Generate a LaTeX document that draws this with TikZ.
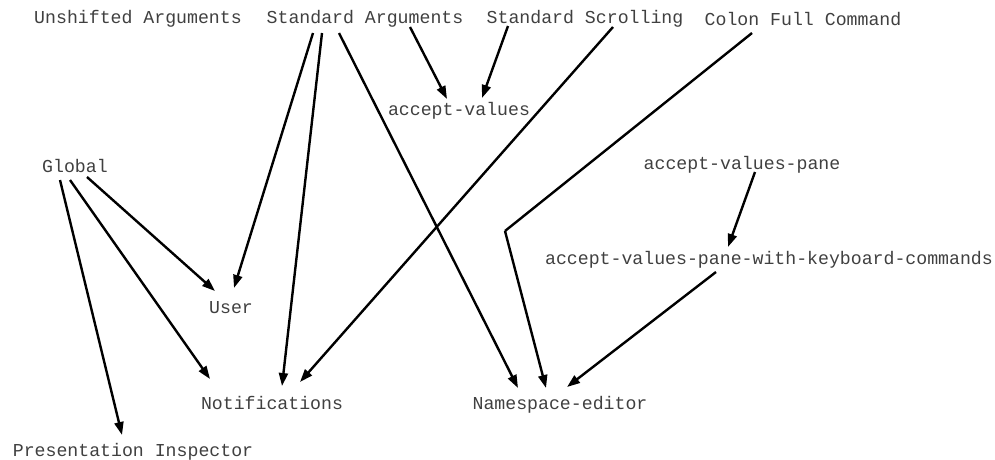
\documentclass[tikz,border=0pt]{standalone}
\usepackage{fontspec}
\setmonofont{Liberation Mono}
\usetikzlibrary{arrows.meta,calc}
\tikzset{
  lbl/.style={anchor=base, inner sep=0pt, text=black!75, font=\ttfamily\fontsize{18.2}{22}\selectfont},
  edge/.style={line width=2.4pt, -{Triangle[length=13pt,width=9pt]}},
  seg/.style={line width=2.4pt}
}
\begin{document}
\begin{tikzpicture}[x=1pt,y=-1pt]
\useasboundingbox (0,0) rectangle (995,459);
\node[lbl] (ua) at (138,23) {Unshifted Arguments};
\node[lbl] (sa) at (365,23) {Standard Arguments};
\node[lbl] (ss) at (585,23) {Standard Scrolling};
\node[lbl] (cf) at (803,25) {Colon Full Command};
\node[lbl] (av) at (459,115) {accept-values};
\node[lbl] (gl) at (75,172) {Global};
\node[lbl] (us) at (231,313) {User};
\node[lbl] (no) at (272,409) {Notifications};
\node[lbl] (pi) at (133,456) {Presentation Inspector};
\node[lbl] (ne) at (560,409) {Namespace-editor};
\node[lbl] (avp) at (742,169) {accept-values-pane};
\node[lbl] (avk) at (769,264) {accept-values-pane-with-keyboard-commands};
\coordinate (bend) at (505,231);

\draw[edge] ($(sa.base)+(-52,10)$) -- ($(us.base)+(3,-25)$);
\draw[edge] ($(sa.base)+(-43,10)$) -- ($(no.base)+(10,-23)$);
\draw[edge] ($(sa.base)+(-26,10)$) -- ($(ne.base)+(-42,-21)$);
\draw[edge] ($(sa.base)+(45,4)$) -- ($(av.base)+(-12,-16)$);
\draw[edge] ($(ss.base)+(-77,3)$) -- ($(av.base)+(23,-17)$);
\draw[edge] ($(ss.base)+(28,4)$) -- ($(no.base)+(28,-27)$);
\draw[seg] ($(cf.base)+(-51,8)$) -- (bend);
\draw[edge] (bend) -- ($(ne.base)+(-14,-21)$);
\draw[edge] ($(gl.base)+(12,5)$) -- ($(us.base)+(-16,-22)$);
\draw[edge] ($(gl.base)+(-5,8)$) -- ($(no.base)+(-62,-30)$);
\draw[edge] ($(gl.base)+(-15,8)$) -- ($(pi.base)+(-11,-21)$);
\draw[edge] ($(avp.base)+(13,3)$) -- ($(avk.base)+(-41,-17)$);
\draw[edge] ($(avk.base)+(-53,8)$) -- ($(ne.base)+(7,-22)$);
\end{tikzpicture}
\end{document}
